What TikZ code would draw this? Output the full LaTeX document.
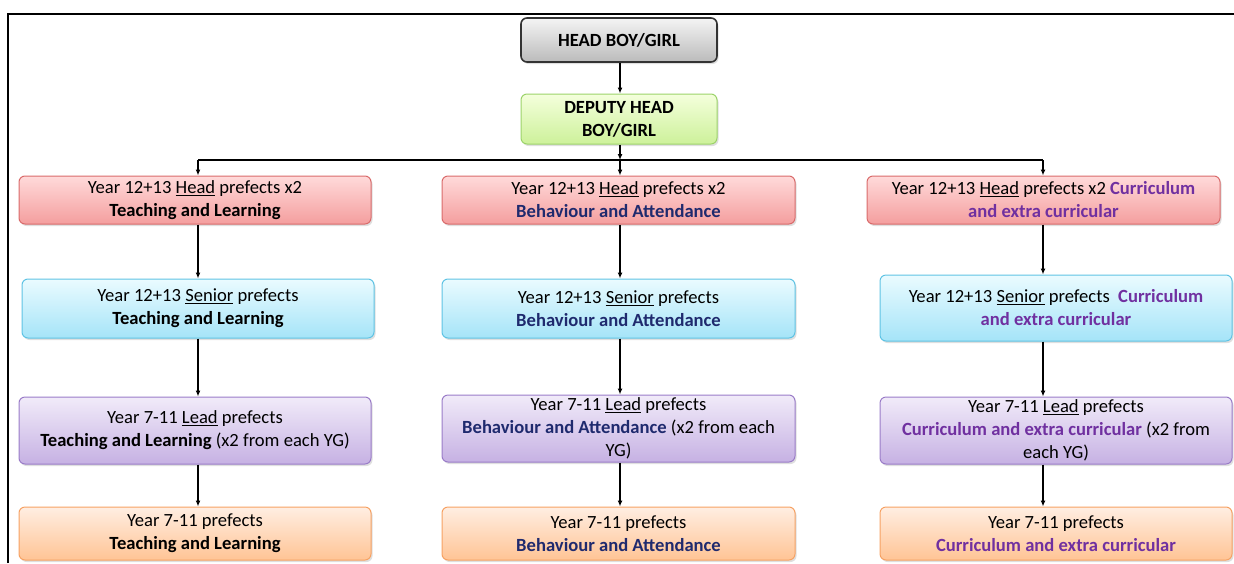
\documentclass[tikz,border=0pt]{standalone}
\usepackage{fontspec}
\setmainfont{Carlito}
\usetikzlibrary{arrows.meta,shadows}
\definecolor{navyt}{HTML}{1F2A6E}
\definecolor{purpt}{HTML}{7030A0}
\definecolor{gyD}{HTML}{333333}\definecolor{gyT}{HTML}{F4F4F4}\definecolor{gyB}{HTML}{BBBBBB}
\definecolor{grD}{HTML}{9CD36A}\definecolor{grT}{HTML}{F4FFDC}\definecolor{grB}{HTML}{CDF19A}
\definecolor{rdD}{HTML}{D96B6B}\definecolor{rdT}{HTML}{FFDADA}\definecolor{rdB}{HTML}{F49E9E}
\definecolor{cyD}{HTML}{5FC3E4}\definecolor{cyT}{HTML}{EAFBFF}\definecolor{cyB}{HTML}{A5E4F8}
\definecolor{puD}{HTML}{9A7CC8}\definecolor{puT}{HTML}{F1EBF9}\definecolor{puB}{HTML}{C6B1E3}
\definecolor{orD}{HTML}{F6A264}\definecolor{orT}{HTML}{FFEEE2}\definecolor{orB}{HTML}{FFC495}
\newcommand{\TLtxt}{\textbf{Teaching and Learning}}
\newcommand{\BAtxt}{\textcolor{navyt}{\textbf{Behaviour and Attendance}}}
\newcommand{\CEtxt}[1]{\textcolor{purpt}{\textbf{#1}}}
\tikzset{
  box/.style={rounded corners=6pt, align=center, line width=1pt, inner sep=0pt,
    font=\fontsize{18.6}{23}\selectfont,
    drop shadow={opacity=0.25, shadow xshift=1.5pt, shadow yshift=-2pt}},
  graybox/.style={box, draw=gyD, top color=gyT, bottom color=gyB, line width=1.6pt},
  greenbox/.style={box, draw=grD, top color=grT, bottom color=grB},
  redbox/.style={box, draw=rdD, top color=rdT, bottom color=rdB},
  cyanbox/.style={box, draw=cyD, top color=cyT, bottom color=cyB},
  purpbox/.style={box, draw=puD, top color=puT, bottom color=puB},
  orbox/.style={box, draw=orD, top color=orT, bottom color=orB},
  conn/.style={line width=1.2pt, -{Latex[length=6pt,width=5pt]}},
  plainline/.style={line width=1.2pt},
  frameline/.style={line width=2pt}
}
\begin{document}
\begin{tikzpicture}[x=1pt,y=-1pt]
\useasboundingbox (0,0) rectangle (1234,563);
\draw[frameline] (8,563) -- (8,14) -- (1234,14);

\node[graybox, minimum width=196pt, minimum height=44pt] (hb) at (619,40) {\textbf{HEAD BOY/GIRL}};
\node[greenbox, minimum width=196pt, minimum height=50pt] (dh) at (619,119) {\textbf{DEPUTY HEAD}\\\textbf{BOY/GIRL}};

% row 1
\node[redbox, minimum width=352pt, minimum height=48pt] (r1L) at (195,200) {Year 12+13 \underline{Head} prefects x2\\\TLtxt};
\node[redbox, minimum width=353pt, minimum height=48pt] (r1M) at (618.5,200) {Year 12+13 \underline{Head} prefects x2\\\BAtxt};
\node[redbox, minimum width=353pt, minimum height=48pt] (r1R) at (1043.5,200) {Year 12+13 \underline{Head} prefects x2 \CEtxt{Curriculum}\\\CEtxt{and extra curricular}};

% row 2
\node[cyanbox, minimum width=352pt, minimum height=59pt] (r2L) at (198,308.5) {Year 12+13 \underline{Senior} prefects\\\TLtxt};
\node[cyanbox, minimum width=353pt, minimum height=59pt] (r2M) at (618.5,308.5) {Year 12+13 \underline{Senior} prefects\\\BAtxt};
\node[cyanbox, minimum width=352pt, minimum height=66pt] (r2R) at (1056,308) {Year 12+13 \underline{Senior} prefects\ \ \CEtxt{Curriculum}\\\CEtxt{and extra curricular}};

% row 3
\node[purpbox, minimum width=352pt, minimum height=67pt] (r3L) at (195,430.5) {Year 7-11 \underline{Lead} prefects\\\TLtxt{} (x2 from each YG)};
\node[purpbox, minimum width=353pt, minimum height=67pt] (r3M) at (618.5,428.5) {Year 7-11 \underline{Lead} prefects\\\BAtxt{} (x2 from each\\YG)};
\node[purpbox, minimum width=352pt, minimum height=67pt] (r3R) at (1056,430.5) {Year 7-11 \underline{Lead} prefects\\\CEtxt{Curriculum and extra curricular} (x2 from\\each YG)};

% row 4
\node[orbox, minimum width=352pt, minimum height=53pt] (r4L) at (195,533.5) {Year 7-11 prefects\\\TLtxt};
\node[orbox, minimum width=353pt, minimum height=53pt] (r4M) at (618.5,533.5) {Year 7-11 prefects\\\BAtxt};
\node[orbox, minimum width=352pt, minimum height=53pt] (r4R) at (1056,533.5) {Year 7-11 prefects\\\CEtxt{Curriculum and extra curricular}};

% connectors
\coordinate (jM) at (620,160);
\coordinate (jL) at (198,160);
\coordinate (jR) at (1043,160);
\draw[conn] (hb.south -| jM) -- (dh.north -| jM);
\draw[conn] (dh.south -| jM) -- (jM);
\draw[plainline] (jL) -- (jR);
\draw[conn] (jL) -- (jL |- r1L.north);
\draw[conn] (jM) -- (jM |- r1M.north);
\draw[conn] (jR) -- (jR |- r1R.north);

\draw[conn] (r1L.south -| jL) -- (r2L.north -| jL);
\draw[conn] (r2L.south -| jL) -- (r3L.north -| jL);
\draw[conn] (r3L.south -| jL) -- (r4L.north -| jL);

\draw[conn] (r1M.south -| jM) -- (r2M.north -| jM);
\draw[conn] (r2M.south -| jM) -- (r3M.north -| jM);
\draw[conn] (r3M.south -| jM) -- (r4M.north -| jM);

\draw[conn] (r1R.south -| jR) -- (r2R.north -| jR);
\draw[conn] (r2R.south -| jR) -- (r3R.north -| jR);
\draw[conn] (r3R.south -| jR) -- (r4R.north -| jR);
\end{tikzpicture}
\end{document}
